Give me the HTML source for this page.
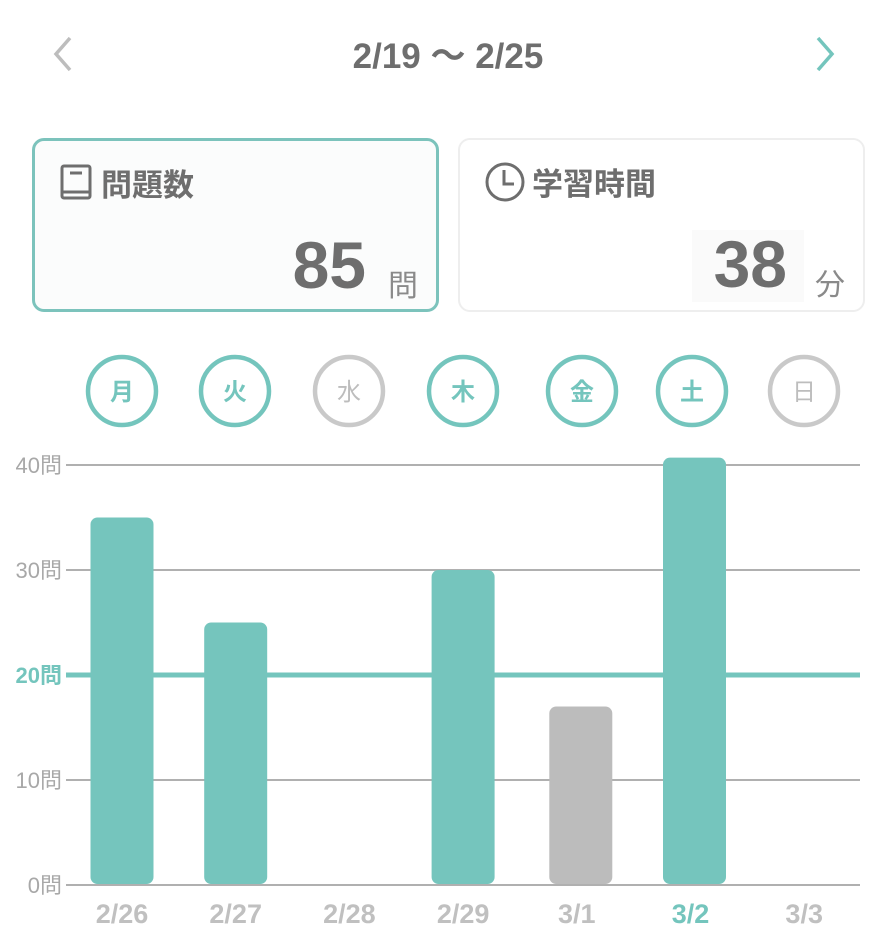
<!DOCTYPE html>
<html><head><meta charset="utf-8">
<style>
body{margin:0;width:892px;height:940px;background:#fff;font-family:"Liberation Sans","Noto Sans CJK JP",sans-serif;position:relative;overflow:hidden}
.abs{position:absolute}
.card{position:absolute;top:138px;height:174px;border-radius:12px;box-sizing:border-box}
.title{position:absolute;top:19px;left:24px;font-size:31px;font-weight:bold;color:#6e6e6e;display:flex;align-items:center;gap:6px}
.num{position:absolute;font-size:66px;font-weight:bold;color:#6e6e6e;top:86px}
.unit{position:absolute;font-size:30px;color:#8a8a8a;top:120px}
</style></head><body>
<div class="abs" style="left:46px;top:32px;width:34px;height:44px">
<svg width="34" height="44"><polyline points="24,6 10,22 24,38" fill="none" stroke="#bdbdbd" stroke-width="3.5"/></svg></div>
<div class="abs" style="left:0;width:896px;top:28px;text-align:center;font-size:35px;font-weight:bold;color:#6e6e6e">2/19 〜 2/25</div>
<div class="abs" style="left:808px;top:32px;width:34px;height:44px">
<svg width="34" height="44"><polyline points="10,6 24,22 10,38" fill="none" stroke="#74c5bd" stroke-width="3.5"/></svg></div>

<div class="card" style="left:32px;width:407px;border:3px solid #7cc3bc;background:#fbfcfc">
 <div class="title"><svg width="36" height="40"><rect x="3" y="3" width="28" height="32" rx="2" fill="none" stroke="#6e6e6e" stroke-width="3"/><line x1="3" y1="29" x2="31" y2="29" stroke="#6e6e6e" stroke-width="3"/><line x1="11" y1="10" x2="23" y2="10" stroke="#6e6e6e" stroke-width="3"/></svg>問題数</div>
 <div class="num" style="right:70px">85</div>
 <div class="unit" style="right:18px">問</div>
</div>
<div class="card" style="left:458px;width:407px;border:2px solid #eeeeee;background:#fff">
 <div class="title"><svg width="42" height="42"><circle cx="21" cy="21" r="18" fill="none" stroke="#6e6e6e" stroke-width="3"/><polyline points="20,9 20,23 30,23" fill="none" stroke="#6e6e6e" stroke-width="3"/></svg>学習時間</div>
 <div class="abs" style="left:232px;top:90px;width:112px;height:72px;background:#fafafa"></div>
 <div class="num" style="right:76px">38</div>
 <div class="unit" style="right:18px">分</div>
</div>

<svg id="chart" class="abs" style="left:0;top:0" width="892" height="940"></svg>
<script>
const days=["月","火","水","木","金","土","日"];
const dayActive=[true,true,false,true,true,true,false];
const categories=["2/26","2/27","2/28","2/29","3/1","3/2","3/3"];
const values=[35,25,0,30,17,40.7,0];
const barColors=["teal","teal","teal","teal","gray","teal","teal"];
const yTicks=[0,10,20,30,40];
const target=20;
const NS="http://www.w3.org/2000/svg";
const svg=document.getElementById('chart');
const x0=66,x1=860,y0=885,yTop=465,yMax=40;
const xc=i=>122+i*113.7;
const y=v=>y0-(v/yMax)*(y0-yTop);
function mk(t,a){const e=document.createElementNS(NS,t);for(const k in a)e.setAttribute(k,a[k]);svg.appendChild(e);return e;}
days.forEach((d,i)=>{
 const cx=[122,235,349,463,582,692,804][i];
 const c=mk('circle',{cx:cx,cy:391,r:34,fill:'#fff',stroke:dayActive[i]?'#74c5bd':'#c9c9c9','stroke-width':4.5});
 
 
 const t=mk('text',{x:cx,y:400,'text-anchor':'middle','font-size':24,'font-weight':dayActive[i]?'bold':'normal',fill:dayActive[i]?'#74c5bd':'#bdbdbd'});
 t.textContent=d;
 
 
});
yTicks.forEach(v=>{
 const isT=v===target;
 const l=mk('line',{x1:x0,x2:x1,y1:y(v),y2:y(v),stroke:isT?'#74c5bd':'#b0b0b0','stroke-width':isT?5:2});
 
 
 const t=mk('text',{x:62,y:y(v)+8,'text-anchor':'end','font-size':22,'font-weight':isT?'bold':'normal',fill:isT?'#74c5bd':'#a8a8a8'});
 t.textContent=v+'問';
 
 
});
categories.forEach((c,i)=>{
 if(values[i]>0){
  const w=63,top=y(values[i]);
  const r=mk('rect',{x:xc(i)-w/2+(i>=4?4:0),y:top,width:w,height:y0-top-1,rx:7,fill:barColors[i]==='gray'?'#bcbcbc':'#75c5bd'});
  
  
 }
 const sel=i===5;
 const t=mk('text',{x:xc(i),y:923,'text-anchor':'middle','font-size':27,'font-weight':'bold',fill:sel?'#74c5bd':'#c0c0c0'});
 t.textContent=c;
 
 
});
</script>
</body></html>
